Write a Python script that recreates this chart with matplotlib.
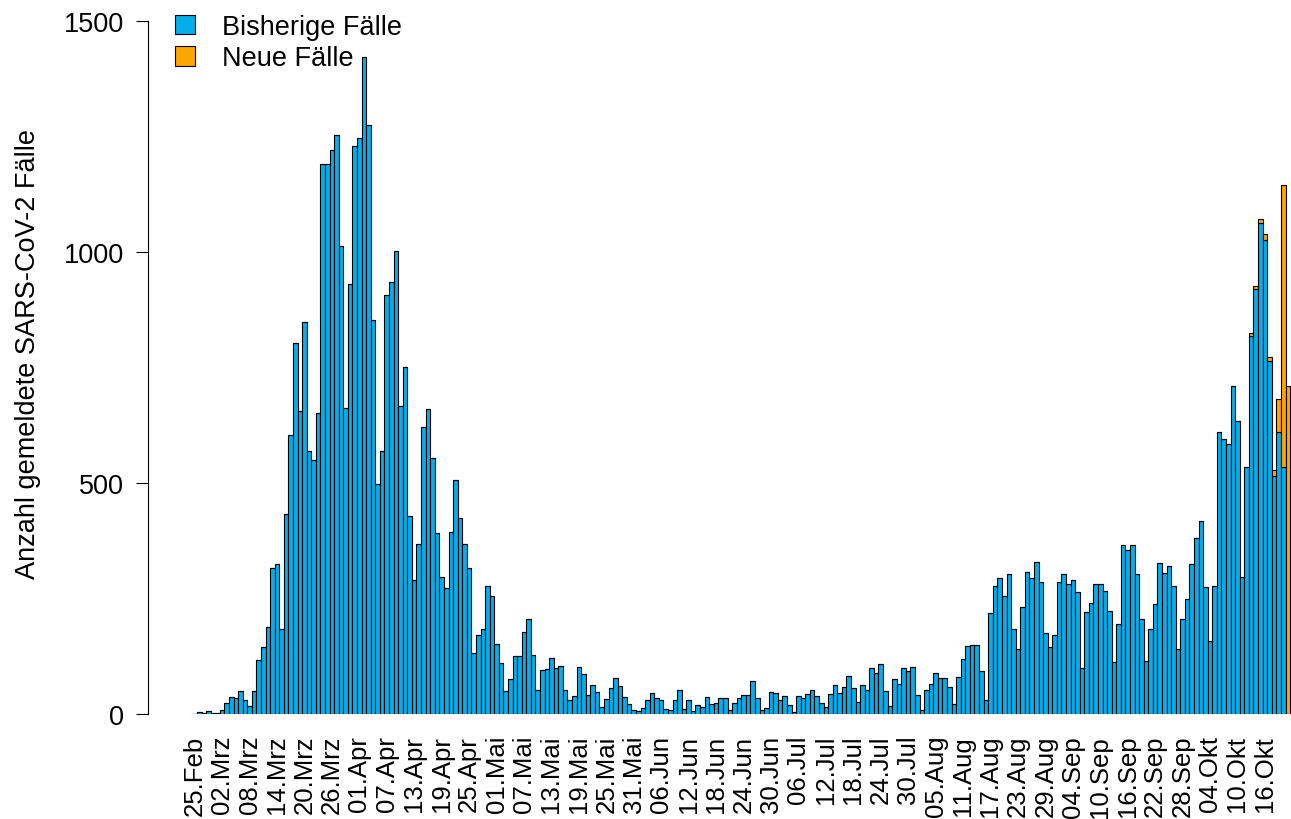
import pandas as pd
import matplotlib
matplotlib.use('Agg')
from matplotlib import pyplot as plt
from matplotlib.patches import Patch

plt.rcParams['font.family'] = ['Liberation Sans', 'DejaVu Sans']

# Tagesfaelle ab 25.02.2020
start = '2020-02-25'
bisher = [1, 4, 3, 7, 2, 2, 9, 23, 37, 35, 50, 31, 18, 50, 117, 144, 189, 316, 325, 183,
          432, 604, 804, 656, 849, 569, 550, 652, 1190, 1190, 1221, 1254, 1013, 663, 931, 1230, 1247, 1422, 1275, 853,
          498, 570, 906, 935, 1002, 667, 752, 428, 291, 369, 622, 661, 555, 392, 297, 273, 395, 506, 425, 367,
          316, 132, 172, 184, 278, 256, 152, 110, 49, 76, 126, 126, 177, 206, 128, 52, 96, 97, 122, 100,
          103, 52, 30, 39, 101, 87, 41, 63, 48, 16, 33, 56, 79, 61, 37, 22, 9, 6, 14, 30,
          46, 35, 30, 11, 9, 30, 51, 11, 30, 7, 19, 16, 36, 22, 24, 35, 35, 9, 24, 34,
          41, 42, 71, 34, 9, 13, 47, 45, 30, 39, 20, 4, 38, 34, 44, 52, 38, 23, 15, 44,
          62, 45, 58, 82, 57, 26, 62, 51, 100, 88, 109, 50, 17, 76, 64, 100, 92, 102, 41, 9,
          53, 66, 88, 78, 79, 58, 22, 81, 120, 148, 150, 149, 93, 30, 219, 278, 294, 256, 304, 183,
          140, 232, 308, 295, 330, 286, 176, 144, 172, 286, 304, 281, 289, 264, 100, 221, 241, 281, 281, 267,
          222, 113, 195, 366, 355, 366, 302, 205, 114, 185, 238, 327, 305, 320, 277, 141, 205, 250, 324, 380,
          417, 275, 158, 277, 610, 595, 585, 709, 634, 296, 535, 819, 920, 1063, 1026, 763, 516, 610, 534, 0]
neu_letzte = [6, 7, 9, 13, 9, 13, 71, 611, 710]
neu = [0] * (len(bisher) - len(neu_letzte)) + neu_letzte

monate = {2: 'Feb', 3: 'Mrz', 4: 'Apr', 5: 'Mai', 6: 'Jun', 7: 'Jul', 8: 'Aug', 9: 'Sep', 10: 'Okt'}
tage = pd.date_range(start, periods=len(bisher), freq='D')
labels = ['%02d.%s' % (d.day, monate[d.month]) for d in tage]

blau = '#05AEEA'
orange = '#FFA500'

fig = plt.figure(figsize=(12.91, 8.2), dpi=100)
ax = fig.add_axes([148 / 1291, 105 / 820, 1143 / 1291, 693 / 820])

x = list(range(len(bisher)))
ax.bar(x, bisher, width=1, align='edge', color=blau, edgecolor='black', linewidth=0.8)
ax.bar(x, neu, bottom=bisher, width=1, align='edge', color=orange, edgecolor='black', linewidth=0.8)

ax.set_xlim(-9.7, 240.2)
ax.set_ylim(0, 1500)
ax.set_yticks([0, 500, 1000, 1500])
ax.set_xticks([i + 0.5 for i in x[::6]])
ax.set_xticklabels(labels[::6])

for s in ['top', 'right', 'bottom']:
    ax.spines[s].set_visible(False)
ax.spines['left'].set_linewidth(0.8)
ax.tick_params(axis='y', length=9, width=0.8, pad=8, labelsize=19.5)
ax.tick_params(axis='x', length=0, pad=15, labelsize=18.5, labelrotation=90)

fig.text(28 / 1291, 1 - 354 / 820, 'Anzahl gemeldete SARS-CoV-2 Fälle', rotation=90,
         ha='center', va='center', fontsize=19.5)

handles = [Patch(facecolor=blau, edgecolor='black', linewidth=0.8, label='Bisherige Fälle'),
           Patch(facecolor=orange, edgecolor='black', linewidth=0.8, label='Neue Fälle')]
ax.legend(handles=handles, loc='upper left', bbox_to_anchor=(175 / 1291, 1 - 15 / 820),
          bbox_transform=fig.transFigure, frameon=False, fontsize=19.5,
          handlelength=0.75, handleheight=0.75, handletextpad=1.0,
          borderpad=0, borderaxespad=0, labelspacing=0.2)

plt.savefig('out.png', dpi=100)
